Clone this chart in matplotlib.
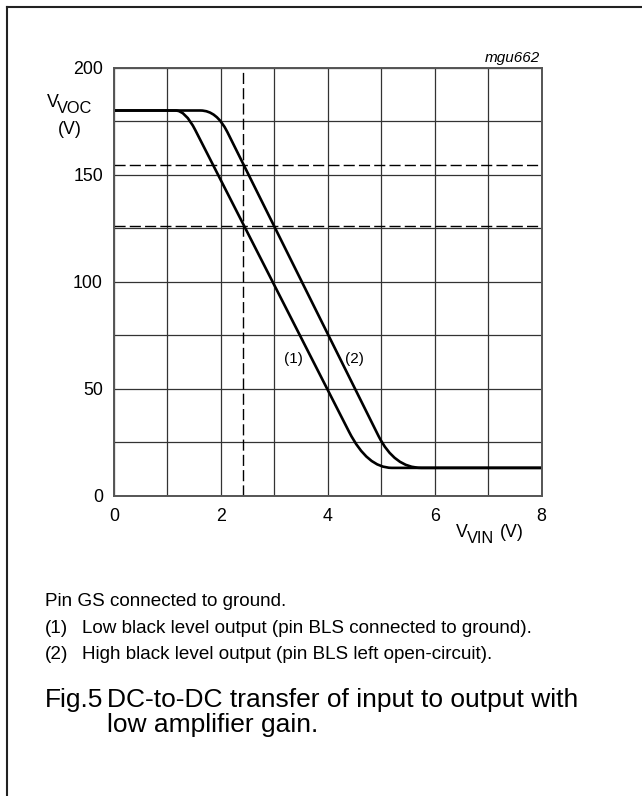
import matplotlib
matplotlib.use("Agg")
import matplotlib.pyplot as plt
from matplotlib.path import Path
from matplotlib.patches import PathPatch
from matplotlib.lines import Line2D

plt.rcParams['font.family'] = ['Liberation Sans', 'DejaVu Sans']

# curve (1): low black level output, corners of the bends are the curve control points
curve1_x = [0, 1.15, 1.335, 1.52, 4.40, 4.743, 5.20, 8]
curve1_y = [180, 180, 180, 170.9, 29.8, 13, 13, 13]
# curve (2): high black level output
curve2_x = [0, 1.62, 1.92, 2.12, 4.95, 5.25, 5.75, 8]
curve2_y = [180, 180, 180, 170, 27.9, 13, 13, 13]
curve_codes = [Path.MOVETO, Path.LINETO, Path.CURVE3, Path.CURVE3,
               Path.LINETO, Path.CURVE3, Path.CURVE3, Path.LINETO]

dash_h = [154.3, 126]
dash_v = [2.42]

x_ticks = [0, 2, 4, 6, 8]
y_ticks = [0, 50, 100, 150, 200]

W, H = 642, 796
fig = plt.figure(figsize=(W / 100, H / 100), dpi=100)

def fx(px):
  return px / W

def fy(py):
  return 1 - py / H

ax = fig.add_axes([fx(114), fy(495.7), (541.5 - 114) / W, (495.7 - 67.7) / H])
ax.set_xlim(0, 8)
ax.set_ylim(0, 200)
ax.set_xticks(x_ticks)
ax.set_xticks([1, 3, 5, 7], minor=True)
ax.set_yticks(y_ticks)
ax.set_yticks([25, 75, 125, 175], minor=True)
ax.tick_params(which='both', length=0, labelsize=12.8)
ax.tick_params(axis='x', pad=9)
ax.tick_params(axis='y', pad=8)
ax.grid(which='both', color='#333333', lw=0.9)
ax.set_axisbelow(True)
for s in ax.spines.values():
  s.set_color('#555555')
  s.set_linewidth(1.4)

for y in dash_h:
  ax.axhline(y, color='black', lw=1, dashes=(8, 3))
for x in dash_v:
  ax.axvline(x, color='black', lw=1, dashes=(8, 3))

for cx, cy in [(curve1_x, curve1_y), (curve2_x, curve2_y)]:
  p = Path(list(zip(cx, cy)), curve_codes)
  ax.add_patch(PathPatch(p, fill=False, lw=1.9, color='black', capstyle='butt'))

ax.text(3.35, 63.7, '(1)', ha='center', va='center', fontsize=11)
ax.text(4.50, 63.7, '(2)', ha='center', va='center', fontsize=11)

# axis labels with near full size subscripts
fig.text(fx(47), fy(106.7), 'V', fontsize=12.8, va='baseline')
fig.text(fx(57), fy(112.7), 'VOC', fontsize=11.8, va='baseline')
fig.text(fx(70), fy(133.5), '(V)', fontsize=12.8, va='baseline', ha='center')

fig.text(fx(456), fy(536.7), 'V', fontsize=12.8, va='baseline')
fig.text(fx(467), fy(542.7), 'VIN', fontsize=11.8, va='baseline')
fig.text(fx(500), fy(536.7), '(V)', fontsize=12.8, va='baseline')

fig.text(fx(540), fy(61.7), 'mgu662', fontsize=11, style='italic', ha='right', va='baseline')

# notes
fig.text(fx(45), fy(606), 'Pin GS connected to ground.', fontsize=13.6, va='baseline')
fig.text(fx(45), fy(633), '(1)', fontsize=13.6, va='baseline')
fig.text(fx(82), fy(633), 'Low black level output (pin BLS connected to ground).', fontsize=13.6, va='baseline')
fig.text(fx(45), fy(659), '(2)', fontsize=13.6, va='baseline')
fig.text(fx(82), fy(659), 'High black level output (pin BLS left open-circuit).', fontsize=13.6, va='baseline')

fig.text(fx(45), fy(707), 'Fig.5', fontsize=19, va='baseline')
fig.text(fx(107), fy(707), 'DC-to-DC transfer of input to output with', fontsize=19, va='baseline')
fig.text(fx(107), fy(732), 'low amplifier gain.', fontsize=19, va='baseline')

# page frame, top and left only
fig.add_artist(Line2D([fx(7), 1], [fy(7), fy(7)], color='#222222', lw=1.5))
fig.add_artist(Line2D([fx(7), fx(7)], [fy(7), 0], color='#222222', lw=1.5))

fig.savefig('out.png', dpi=100)
